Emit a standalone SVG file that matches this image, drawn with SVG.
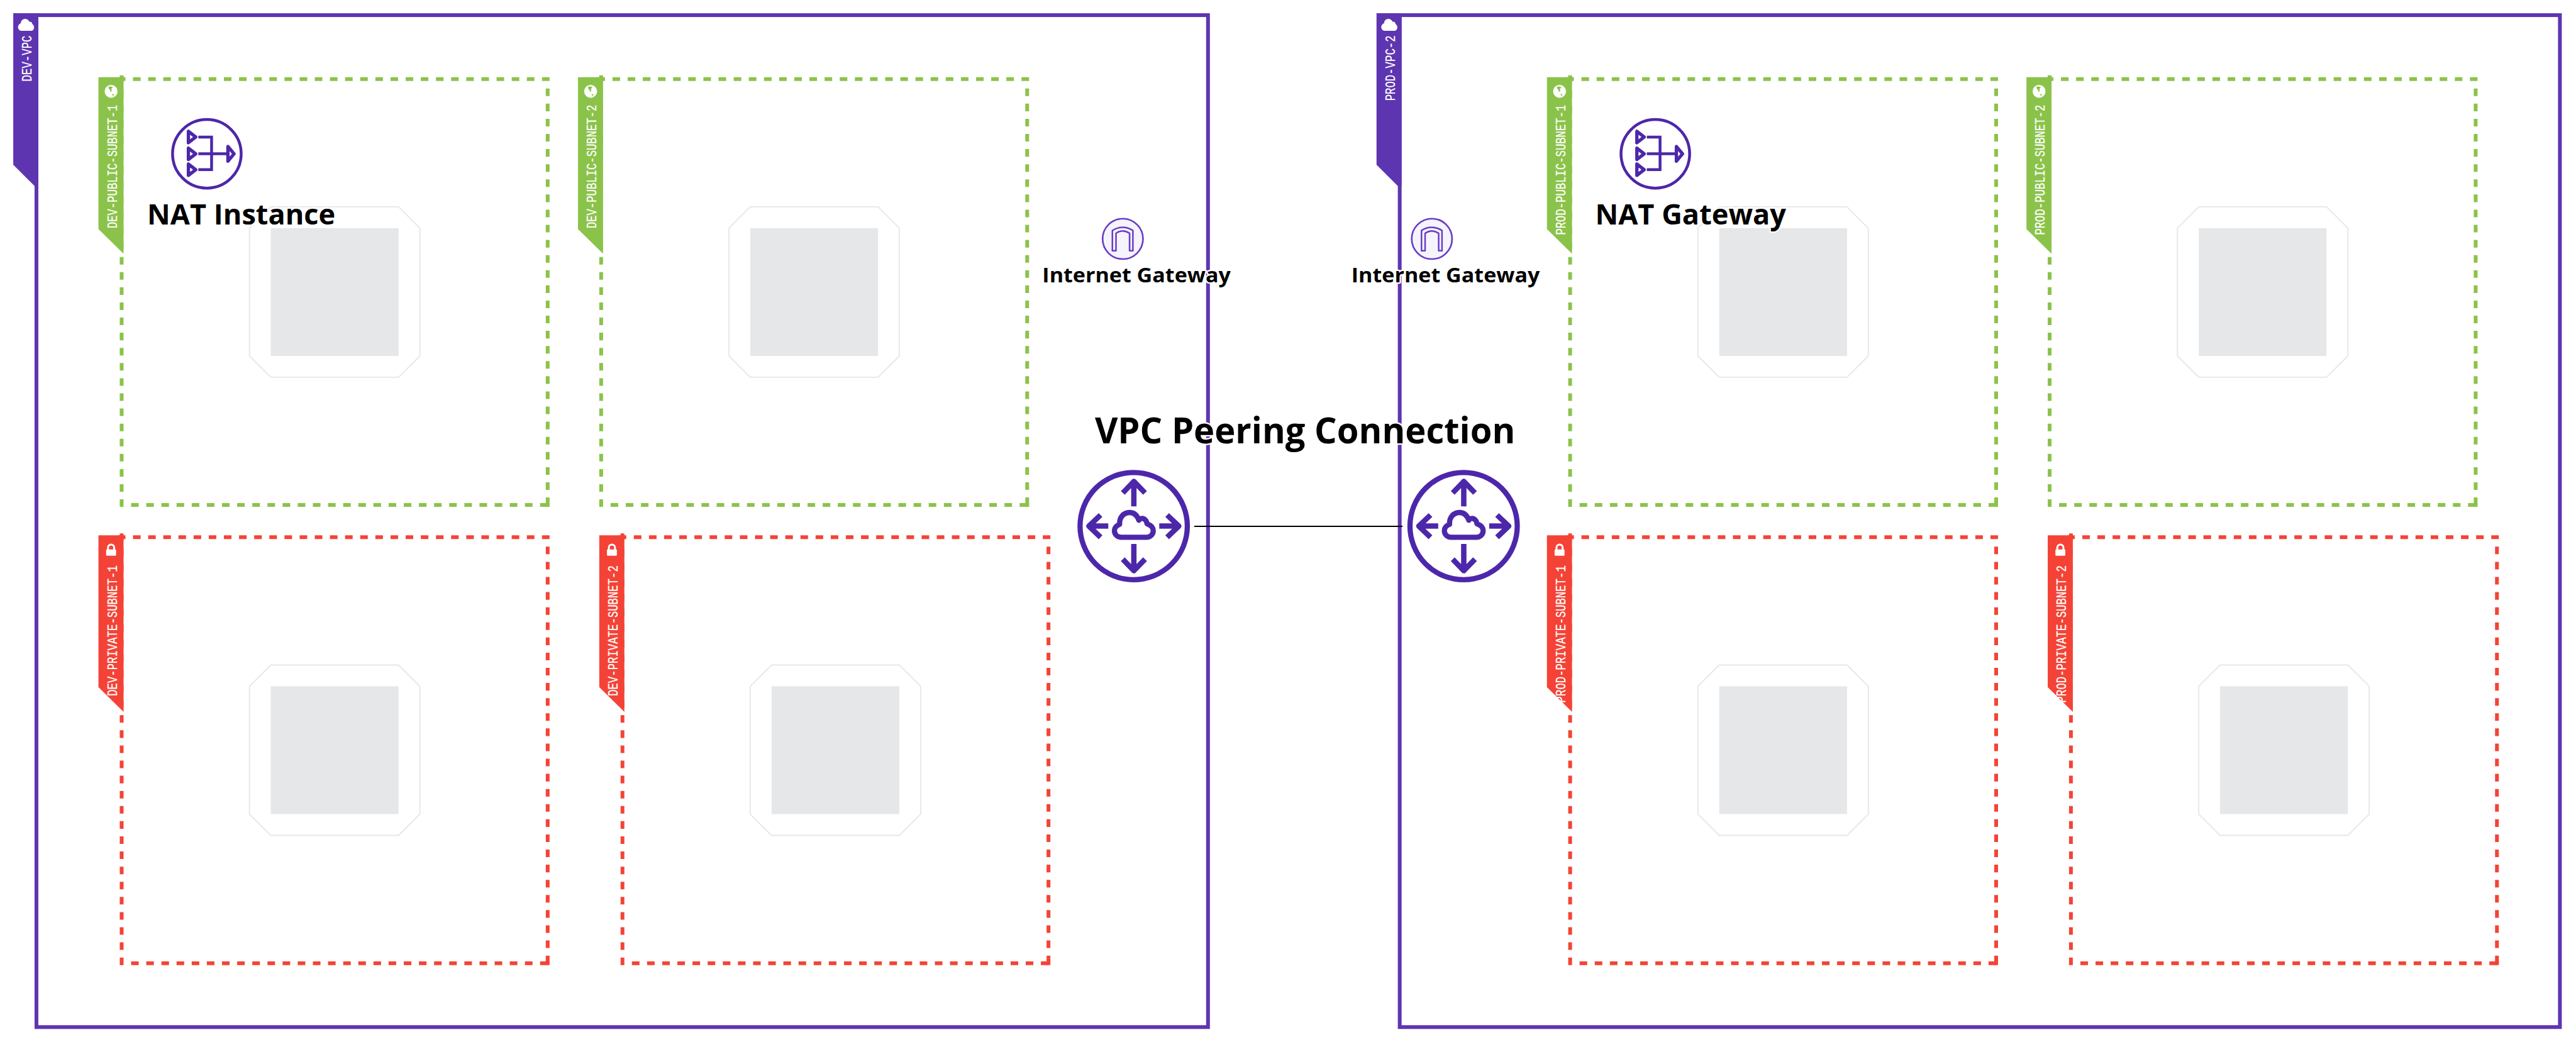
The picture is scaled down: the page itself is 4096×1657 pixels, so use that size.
<svg xmlns="http://www.w3.org/2000/svg" width="4096" height="1657" viewBox="0 0 4096 1657">
<style>
.vpc-line{fill:none;stroke:#5e35b1;stroke-width:8}
.vpc-tab{fill:#5e35b1}
.green{stroke:#8bc34a;fill:#8bc34a}
.red{stroke:#f44336;fill:#f44336}
.dash{fill:none;stroke-width:8;stroke-dasharray:16 16}
.solid{fill:none;stroke-width:8}
.tab{stroke:none}
.lbl{font-family:"Liberation Mono",monospace;font-size:29px;fill:#fff;stroke:#fff;stroke-width:.3px;text-anchor:end}
.vm-o{fill:#fff;stroke:#e6e7e8;stroke-width:2.5}
.vm-i{fill:#e6e7e8;stroke:none}
.ic{fill:none;stroke:#4d27aa;stroke-linejoin:round}
.t{font-family:"Open Sans","Noto Sans",sans-serif;font-weight:700;fill:#000;stroke:#fff;stroke-width:6px;paint-order:stroke;stroke-linejoin:round}
</style>
<defs>
<g id="frame"><path class="dash" d="M-8 0H904M0 -8V904M900 20V900M20 900H900"/><path class="solid" d="M896 900H904"/></g>
<polygon id="stab" class="tab" points="-49,-4 4,-4 4,369 -49,317"/>
<g id="vm"><polygon class="vm-o" points="-135,-180 135,-180 180,-135 180,135 135,180 -135,180 -180,135 -180,-135"/><rect class="vm-i" x="-135" y="-135" width="270" height="270"/></g>
<path id="cloud" fill="#fff" stroke="none" d="M46 65C41 65 38 61 38 57C38 53 41 50 44 49C44 44 48 40 53 40C57 40 60 42 62 46C65 45 68 47 68 50C70 52 72 54 72 58C72 62 69 65 66 65Z"/>
<g id="globe" stroke="none"><circle r="13.7" fill="#fff"/><path fill="#8bc34a" d="M-5.5 -9.5C-3 -10.5 1 -10.5 3.5 -9L2 -6L.5 -5.5L1.5 -1.5L-1 1.5L-2.5 -3L-5.5 -6.5ZM2 5.5L6.5 6.5L4.5 9.5L2.7 8.3Z"/></g>
<g id="lock"><rect x="-10.5" y="26" width="21" height="13" rx="1.5" fill="#fff" stroke="none"/><path d="M-6.5 27V22A6.5 6.5 0 0 1 6.5 22V27" fill="none" stroke="#fff" stroke-width="4"/></g>
<g id="nat" class="ic"><circle r="72.5" stroke-width="6"/>
<path stroke-width="7" d="M-39 -47.5V-23.5L-23.5 -35.5ZM-39 -12V12L-23.5 0ZM-39 21.5V45.5L-23.5 33.5ZM44.5 -15.5V15.5L57.5 0Z"/>
<path stroke-width="6" stroke-linejoin="miter" d="M-18 -35.5H10V36.5M-18 33.5H10M-18 0H44"/></g>
<g id="peer" class="ic"><g transform="scale(.33333) translate(-464 -455)" stroke-width="33">
<circle cx="464" cy="455" r="340"/>
<path stroke-width="34" d="M465 330V175M395 245L465 172L536 245M303 455H185M254 385L180 455L254 526M626 455H745M676 385L750 455L676 526M465 568V735M395 665L465 738L536 665"/>
<path d="M385 526C360 526 342 508 342 484C342 462 358 450 375 444C372 400 400 369 438 369C465 369 485 385 497 418C505 405 520 405 530 410C540 415 548 428 548 440C570 448 588 462 588 484C588 508 570 526 545 526Z"/></g></g>
<g id="igw"><circle r="42.7" fill="#f5f3fb" stroke="#6a3ec8" stroke-width="3.6"/><path transform="scale(.33333) translate(-276 -225)" fill="none" stroke="#6a3ec8" stroke-width="10" stroke-linejoin="round" d="M210 300V172C250 145 300 145 340 172V300H319V190C290 170 260 170 233 190V300Z"/></g>
</defs>
<g transform="scale(.752664)">
<g id="dev-vpc"><rect class="vpc-line" x="77" y="32" width="2475" height="2138"/><polygon class="vpc-tab" points="28,28 81,28 81,393 73,393 28,348"/><use href="#cloud"/><text class="lbl" transform="translate(66 75) rotate(-90)" textLength="97" lengthAdjust="spacingAndGlyphs">DEV-VPC</text></g>
<g id="prod-vpc-2"><rect class="vpc-line" x="2957" y="32" width="2451" height="2138"/><polygon class="vpc-tab" points="2908,28 2961,28 2961,393 2953,393 2908,348"/><use href="#cloud" x="2880"/><text class="lbl" transform="translate(2946.5 75) rotate(-90)" textLength="138" lengthAdjust="spacingAndGlyphs">PROD-VPC-2</text></g>

<g id="dev-public-subnet-1" class="green" transform="translate(257 167)"><use href="#frame"/><use href="#stab"/><use href="#globe" x="-22.3" y="26"/><use href="#vm" x="450" y="450"/><text class="lbl" transform="translate(-10.5 54.4) rotate(-90)" textLength="261" lengthAdjust="spacingAndGlyphs">DEV-PUBLIC-SUBNET-1</text></g>
<g id="dev-public-subnet-2" class="green" transform="translate(1270 167)"><use href="#frame"/><use href="#stab"/><use href="#globe" x="-22.3" y="26"/><use href="#vm" x="450" y="450"/><text class="lbl" transform="translate(-10.5 54.4) rotate(-90)" textLength="261" lengthAdjust="spacingAndGlyphs">DEV-PUBLIC-SUBNET-2</text></g>
<g id="dev-private-subnet-1" class="red" transform="translate(257 1135)"><use href="#frame"/><use href="#stab"/><use href="#lock" x="-22.3"/><use href="#vm" x="450" y="450"/><text class="lbl" transform="translate(-10.5 59.6) rotate(-90)" textLength="276" lengthAdjust="spacingAndGlyphs">DEV-PRIVATE-SUBNET-1</text></g>
<g id="dev-private-subnet-2" class="red" transform="translate(1315 1135)"><use href="#frame"/><use href="#stab"/><use href="#lock" x="-22.3"/><use href="#vm" x="450" y="450"/><text class="lbl" transform="translate(-10.5 59.6) rotate(-90)" textLength="276" lengthAdjust="spacingAndGlyphs">DEV-PRIVATE-SUBNET-2</text></g>
<g id="prod-public-subnet-1" class="green" transform="translate(3317 167)"><use href="#frame"/><use href="#stab"/><use href="#globe" x="-22.3" y="26"/><use href="#vm" x="450" y="450"/><text class="lbl" transform="translate(-10.5 54.4) rotate(-90)" textLength="275" lengthAdjust="spacingAndGlyphs">PROD-PUBLIC-SUBNET-1</text></g>
<g id="prod-public-subnet-2" class="green" transform="translate(4330 167)"><use href="#frame"/><use href="#stab"/><use href="#globe" x="-22.3" y="26"/><use href="#vm" x="450" y="450"/><text class="lbl" transform="translate(-10.5 54.4) rotate(-90)" textLength="275" lengthAdjust="spacingAndGlyphs">PROD-PUBLIC-SUBNET-2</text></g>
<g id="prod-private-subnet-1" class="red" transform="translate(3317 1135)"><use href="#frame"/><use href="#stab"/><use href="#lock" x="-22.3"/><use href="#vm" x="450" y="450"/><text class="lbl" transform="translate(-10.5 59.6) rotate(-90)" textLength="290" lengthAdjust="spacingAndGlyphs">PROD-PRIVATE-SUBNET-1</text></g>
<g id="prod-private-subnet-2" class="red" transform="translate(4375 1135)"><use href="#frame"/><use href="#stab"/><use href="#lock" x="-22.3"/><use href="#vm" x="450" y="450"/><text class="lbl" transform="translate(-10.5 59.6) rotate(-90)" textLength="290" lengthAdjust="spacingAndGlyphs">PROD-PRIVATE-SUBNET-2</text></g>

<g id="connectors"><path d="M2523 1112H2963" fill="none" stroke="#000" stroke-width="2.5"/></g>

<g id="nat-instance"><use href="#nat" x="437" y="325"/><text class="t" x="311" y="474" font-size="60">NAT Instance</text></g>
<g id="nat-gateway"><use href="#nat" x="3497" y="325"/><text class="t" x="3370" y="474" font-size="60">NAT Gateway</text></g>
<g id="igw-dev"><use href="#igw" x="2372" y="504.7"/><text class="t" x="2202" y="596" font-size="43" textLength="398" lengthAdjust="spacingAndGlyphs">Internet Gateway</text></g>
<g id="igw-prod"><use href="#igw" x="3025" y="504.7"/><text class="t" x="2855" y="596" font-size="43" textLength="398" lengthAdjust="spacingAndGlyphs">Internet Gateway</text></g>
<g id="peering-dev"><use href="#peer" x="2395" y="1111.5"/></g>
<g id="peering-prod"><use href="#peer" x="3092" y="1111.5"/></g>
<g id="peering-label"><text class="t" x="2313" y="937" font-size="77" textLength="888" lengthAdjust="spacingAndGlyphs">VPC Peering Connection</text></g>
</g>
</svg>
